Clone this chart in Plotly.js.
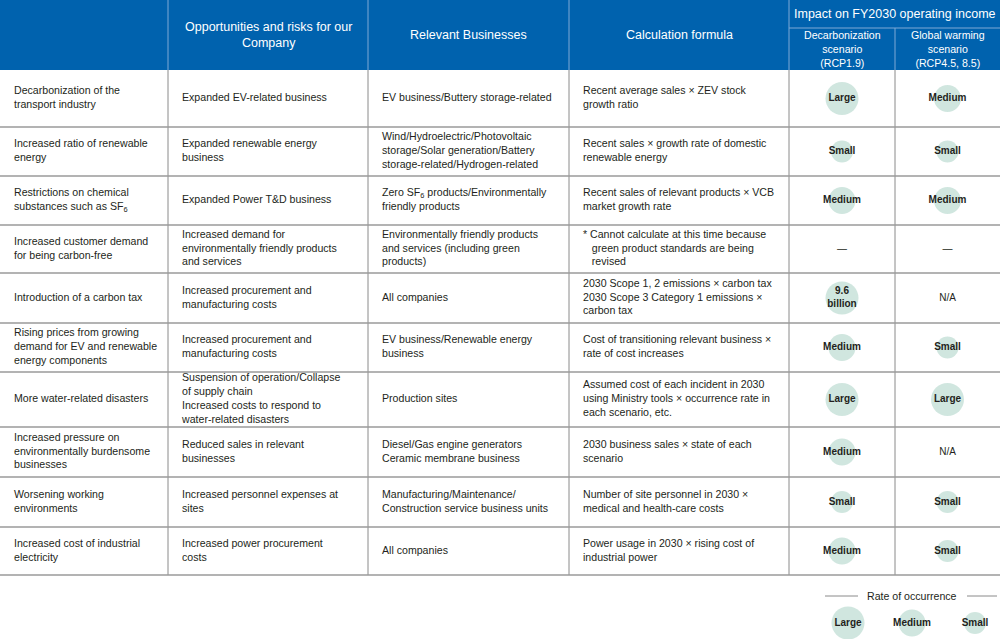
<!DOCTYPE html>
<html>
<head>
<meta charset="utf-8">
<script src="https://cdn.plot.ly/plotly-3.0.1.min.js"></script>
<style>html,body{margin:0;padding:0;background:#fff;}#chart{width:1000px;height:639px;}</style>
</head>
<body>
<div id="chart"></div>
<script>
// ---------- DATA ----------
const drivers = [
  "Decarbonization of the<br>transport industry",
  "Increased ratio of renewable<br>energy",
  "Restrictions on chemical<br>substances such as SF<sub>6</sub>",
  "Increased customer demand<br>for being carbon-free",
  "Introduction of a carbon tax",
  "Rising prices from growing<br>demand for EV and renewable<br>energy components",
  "More water-related disasters",
  "Increased pressure on<br>environmentally burdensome<br>businesses",
  "Worsening working<br>environments",
  "Increased cost of industrial<br>electricity"
];
const opportunities = [
  "Expanded EV-related business",
  "Expanded renewable energy<br>business",
  "Expanded Power T&D business",
  "Increased demand for<br>environmentally friendly products<br>and services",
  "Increased procurement and<br>manufacturing costs",
  "Increased procurement and<br>manufacturing costs",
  "Suspension of operation/Collapse<br>of supply chain<br>Increased costs to respond to<br>water-related disasters",
  "Reduced sales in relevant<br>businesses",
  "Increased personnel expenses at<br>sites",
  "Increased power procurement<br>costs"
];
const businesses = [
  "EV business/Buttery storage-related",
  "Wind/Hydroelectric/Photovoltaic<br>storage/Solar generation/Battery<br>storage-related/Hydrogen-related",
  "Zero SF<sub>6</sub> products/Environmentally<br>friendly products",
  "Environmentally friendly products<br>and services (including green<br>products)",
  "All companies",
  "EV business/Renewable energy<br>business",
  "Production sites",
  "Diesel/Gas engine generators<br>Ceramic membrane business",
  "Manufacturing/Maintenance/<br>Construction service business units",
  "All companies"
];
const formulas = [
  "Recent average sales × ZEV stock<br>growth ratio",
  "Recent sales × growth rate of domestic<br>renewable energy",
  "Recent sales of relevant products × VCB<br>market growth rate",
  "* Cannot calculate at this time because<br>   green product standards are being<br>   revised",
  "2030 Scope 1, 2 emissions × carbon tax<br>2030 Scope 3 Category 1 emissions ×<br>carbon tax",
  "Cost of transitioning relevant business ×<br>rate of cost increases",
  "Assumed cost of each incident in 2030<br>using Ministry tools × occurrence rate in<br>each scenario, etc.",
  "2030 business sales × state of each<br>scenario",
  "Number of site personnel in 2030 ×<br>medical and health-care costs",
  "Power usage in 2030 × rising cost of<br>industrial power"
];
// rate of occurrence (circle size) and label shown
const decarbRate  = ["Large","Small","Medium","",  "Large","Medium","Large","Medium","Small","Medium"];
const decarbLabel = ["Large","Small","Medium","—","9.6<br>billion","Medium","Large","Medium","Small","Medium"];
const warmRate    = ["Medium","Small","Medium","",  "",   "Small","Large","",   "Small","Small"];
const warmLabel   = ["Medium","Small","Medium","—","N/A","Small","Large","N/A","Small","Small"];
const legendLevels = ["Large","Medium","Small"];

const headers = ["Opportunities and risks for our<br>Company","Relevant Businesses","Calculation formula"];
const groupHeader = "Impact on FY2030 operating income";
const subHeaders = ["Decarbonization<br>scenario<br>(RCP1.9)","Global warming<br>scenario<br>(RCP4.5, 8.5)"];
const legendTitle = "Rate of occurrence";

// ---------- LAYOUT GEOMETRY ----------
const colEdges = [0,168,368,569,789,895,1000];
const rowEdges = [70,127,176,225,273,323,372,427,477,527,575];
const textPad = 14;
const sizeOf = {Large:33, Medium:27, Small:22};
const circleColor = "#bcdcd2";
const headerBlue = "#0062ae";
const ink = "#231f20";
const FONT = "Liberation Sans, Arial, Helvetica, sans-serif";

const rowCenters = rowEdges.slice(0,-1).map((e,i)=>(e+rowEdges[i+1])/2);
const colCenter = i => (colEdges[i]+colEdges[i+1])/2;

const traces = [];
// body text columns
[drivers, opportunities, businesses, formulas].forEach((col, ci) => {
  traces.push({
    type:"scatter", mode:"text",
    x: col.map(()=>colEdges[ci]+textPad), y: rowCenters,
    text: col, textposition:"middle right",
    textfont:{family:FONT, size:10.6, color:ink},
    hoverinfo:"skip", showlegend:false, cliponaxis:false
  });
});
// impact circles
[[decarbRate,decarbLabel,4],[warmRate,warmLabel,5]].forEach(([rate,label,ci])=>{
  const idx = rate.map((r,i)=>i).filter(i=>rate[i]);
  traces.push({
    type:"scatter", mode:"markers",
    x: idx.map(()=>colCenter(ci)), y: idx.map(i=>rowCenters[i]),
    marker:{size: idx.map(i=>sizeOf[rate[i]]), color:circleColor, line:{width:0}},
    hoverinfo:"skip", showlegend:false, cliponaxis:false
  });
  traces.push({
    type:"scatter", mode:"text",
    x: label.map(()=>colCenter(ci)), y: rowCenters,
    text: label.map((l,i)=> rate[i] ? "<b>"+l+"</b>" : l),
    textposition:"middle center",
    textfont:{family:FONT, size:10, color:ink},
    hoverinfo:"skip", showlegend:false, cliponaxis:false
  });
});
// legend circles
const legX = [848,912,975], legY = 623;
traces.push({
  type:"scatter", mode:"markers+text",
  x: legX, y: legendLevels.map(()=>legY),
  marker:{size: legendLevels.map(l=>sizeOf[l]), color:circleColor, line:{width:0}},
  text: legendLevels.map(l=>"<b>"+l+"</b>"), textposition:"middle center",
  textfont:{family:FONT, size:10, color:ink},
  hoverinfo:"skip", showlegend:false, cliponaxis:false
});

// shapes
const shapes = [];
shapes.push({type:"rect", x0:0, x1:1000, y0:0, y1:rowEdges[0], fillcolor:headerBlue, line:{width:0}, layer:"below"});
const hdrLine = {color:"#7fa9d6", width:1};
[1,2,3,4].forEach(i=>shapes.push({type:"line", x0:colEdges[i], x1:colEdges[i], y0:0, y1:rowEdges[0], line:hdrLine}));
shapes.push({type:"line", x0:colEdges[5], x1:colEdges[5], y0:28, y1:rowEdges[0], line:hdrLine});
shapes.push({type:"line", x0:colEdges[4], x1:1000, y0:28, y1:28, line:hdrLine});
const bodyV = {color:"#8a8a8a", width:1};
[1,2,3,4,5].forEach(i=>shapes.push({type:"line", x0:colEdges[i], x1:colEdges[i], y0:rowEdges[0], y1:rowEdges[rowEdges.length-1], line:bodyV, layer:"below"}));
rowEdges.slice(1).forEach(y=>shapes.push({type:"line", x0:0, x1:1000, y0:y, y1:y, line:{color:"#9a9a9a", width:1.3}, layer:"below"}));
// legend title rules
shapes.push({type:"line", x0:825, x1:858, y0:596, y1:596, line:{color:"#8a8a8a", width:1}});
shapes.push({type:"line", x0:967, x1:997, y0:596, y1:596, line:{color:"#8a8a8a", width:1}});

// annotations (headers)
const annotations = [];
headers.forEach((h,i)=>annotations.push({
  x: colCenter(i+1), y: 35, xref:"x", yref:"y", text:h, showarrow:false,
  font:{family:FONT, size:12.5, color:"#ffffff"}, align:"center"
}));
annotations.push({x:(colEdges[4]+colEdges[6])/2, y:14, xref:"x", yref:"y", text:groupHeader, showarrow:false,
  font:{family:FONT, size:12.5, color:"#ffffff"}});
subHeaders.forEach((h,i)=>annotations.push({
  x: colCenter(4+i), y: 49, xref:"x", yref:"y", text:h, showarrow:false,
  font:{family:FONT, size:10.6, color:"#ffffff"}, align:"center"
}));
annotations.push({x:912, y:596, xref:"x", yref:"y", text:legendTitle, showarrow:false,
  font:{family:FONT, size:10.6, color:ink}});

const layout = {
  width:1000, height:639,
  margin:{l:0,r:0,t:0,b:0},
  paper_bgcolor:"#ffffff", plot_bgcolor:"#ffffff",
  xaxis:{range:[0,1000], visible:false, fixedrange:true},
  yaxis:{range:[639,0], visible:false, fixedrange:true},
  shapes, annotations, showlegend:false
};
Plotly.newPlot("chart", traces, layout, {staticPlot:true, displayModeBar:false});
</script>
</body>
</html>
